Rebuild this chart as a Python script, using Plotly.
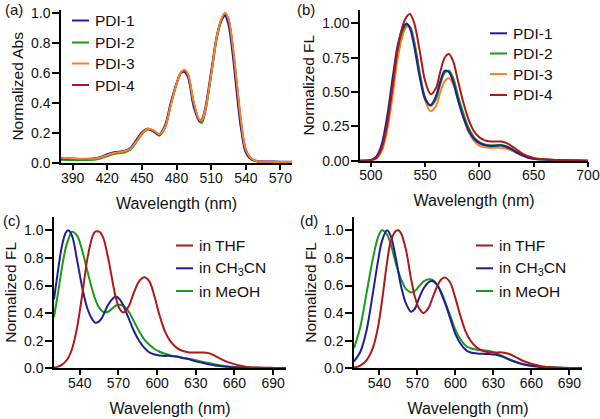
import plotly.graph_objects as go

# ---------------- data ----------------
# (a) absorption
wl_a = [380, 390, 400, 410, 415, 420, 425, 430, 435, 440, 445, 450, 455, 460, 465, 470, 475,
        480, 484, 487, 490, 495, 500, 502, 505, 510, 515, 519, 522, 525, 529, 532, 536, 540,
        545, 550, 560, 570, 580]
abs_pdi1 = [.032, .028, .027, .032, .042, .058, .070, .075, .080, .100, .150, .205, .228, .210, .190,
            .250, .400, .530, .600, .605, .570, .370, .280, .290, .370, .610, .850, .950, .980, .920,
            .700, .480, .220, .070, .022, .012, .010, .009, .008]
abs_pdi2 = [.022, .020, .020, .024, .032, .045, .058, .065, .070, .088, .135, .190, .222, .212, .182,
            .232, .385, .525, .600, .612, .585, .390, .272, .268, .345, .585, .835, .950, .985, .950,
            .740, .530, .250, .080, .025, .010, .007, .006, .005]
abs_pdi3 = [.035, .030, .028, .030, .038, .052, .065, .072, .078, .095, .140, .195, .228, .218, .192,
            .238, .385, .525, .605, .620, .590, .400, .285, .285, .355, .590, .845, .960, 1.00, .960,
            .760, .550, .270, .090, .028, .012, .008, .007, .006]
abs_pdi4 = [.033, .029, .027, .030, .039, .053, .066, .073, .079, .096, .142, .197, .228, .216, .191,
            .240, .388, .527, .604, .615, .585, .395, .282, .283, .352, .588, .842, .958, .995, .955,
            .755, .545, .265, .088, .027, .012, .008, .007, .006]

# (b) fluorescence
wl_b = [490, 500, 505, 510, 515, 520, 525, 530, 533, 536, 540, 545, 550, 555, 560, 564, 568, 572,
        576, 580, 585, 590, 595, 600, 605, 610, 615, 620, 625, 630, 635, 640, 645, 650, 660, 670,
        680, 700]
fl_pdi1 = [0, .005, .030, .120, .320, .600, .850, .975, 1.00, .965, .830, .610, .450, .405, .470,
           .580, .655, .645, .570, .450, .320, .220, .160, .128, .113, .107, .108, .110, .100, .080,
           .057, .037, .022, .014, .007, .004, .002, 0]
fl_pdi2 = [0, .004, .025, .100, .280, .550, .820, .960, .990, .975, .860, .640, .460, .400, .450,
           .560, .640, .655, .600, .480, .350, .240, .170, .135, .118, .112, .113, .115, .105, .085,
           .062, .040, .025, .015, .008, .004, .002, 0]
fl_pdi3 = [0, .002, .015, .070, .220, .470, .760, .930, .975, .975, .870, .640, .440, .360, .400,
           .500, .580, .600, .555, .450, .320, .210, .145, .110, .097, .093, .094, .095, .088, .072,
           .053, .035, .022, .014, .008, .005, .003, 0]
fl_pdi4 = [0, .003, .020, .090, .260, .540, .830, 1.00, 1.05, 1.068, 1.00, .800, .580, .485, .530,
           .650, .750, .777, .720, .590, .430, .300, .215, .170, .148, .140, .140, .140, .128, .105,
           .077, .050, .032, .020, .010, .005, .003, 0]

# (c) solvents
wl_c = [520, 523, 526, 529, 531, 534, 538, 542, 546, 550, 552, 555, 558, 562, 566, 568, 571, 574,
        578, 582, 586, 590, 594, 598, 602, 606, 610, 615, 620, 625, 630, 635, 640, 645, 650, 655,
        660, 665, 670, 680, 690, 700]
c_thf = [.005, .012, .025, .050, .075, .140, .300, .540, .800, .960, .990, .990, .950, .800, .600,
         .510, .430, .405, .450, .550, .630, .660, .630, .520, .380, .270, .200, .150, .125, .115,
         .115, .115, .110, .090, .065, .045, .030, .018, .010, .005, .003, .002]
c_ch3cn = [.500, .700, .880, .980, 1.00, .960, .780, .580, .430, .350, .330, .340, .380, .460, .510,
           .520, .500, .450, .360, .270, .200, .150, .115, .100, .093, .090, .090, .085, .075, .065,
           .050, .040, .030, .020, .015, .011, .007, .005, .004, .002, .001, .001]
c_meoh = [.370, .540, .720, .870, .930, .990, .960, .850, .700, .560, .500, .440, .410, .410, .440,
          .455, .460, .450, .410, .340, .270, .210, .170, .140, .120, .105, .095, .085, .075, .068,
          .058, .048, .038, .028, .020, .014, .010, .007, .005, .003, .002, .001]

# (d) solvents
wl_d = [520, 525, 530, 535, 539, 542, 546, 549, 553, 555, 557, 561, 565, 568, 571, 575, 579, 582,
        586, 589, 592, 596, 600, 604, 608, 612, 617, 622, 627, 632, 637, 642, 647, 652, 657, 662,
        667, 672, 680, 690, 700]
d_thf = [.005, .020, .060, .150, .300, .480, .760, .920, .995, 1.00, .980, .860, .650, .520, .440,
         .400, .440, .510, .600, .645, .657, .620, .510, .380, .270, .200, .150, .125, .115, .115,
         .115, .105, .085, .060, .042, .028, .017, .010, .006, .003, .002]
d_ch3cn = [.050, .120, .280, .550, .780, .920, 1.00, .960, .800, .700, .600, .470, .410, .430, .500,
           .580, .625, .633, .600, .540, .470, .360, .250, .180, .135, .115, .108, .105, .103, .098,
           .085, .065, .047, .032, .022, .015, .010, .007, .004, .002, .001]
d_meoh = [.145, .300, .550, .800, .950, 1.00, .970, .900, .760, .700, .650, .575, .550, .560, .590,
          .630, .645, .640, .600, .550, .480, .380, .280, .210, .165, .145, .135, .130, .125, .110,
          .090, .068, .050, .035, .024, .016, .011, .008, .004, .002, .001]

names_ab = ["PDI-1", "PDI-2", "PDI-3", "PDI-4"]
names_cd = ["in THF", "in CH<sub>3</sub>CN", "in MeOH"]

ticks_a_x = [390, 420, 450, 480, 510, 540, 570]
ticks_a_y = [0.0, 0.2, 0.4, 0.6, 0.8, 1.0]
ticks_b_x = [500, 550, 600, 650, 700]
ticks_b_y = [0.0, 0.25, 0.5, 0.75, 1.0]
ticks_cd_x = [540, 570, 600, 630, 660, 690]
ticks_cd_y = [0.0, 0.2, 0.4, 0.6, 0.8, 1.0]

# ---------------- style ----------------
W, H = 600, 419
BLUE, GREEN, ORANGE, RED = "#1e1e9c", "#1a9a1a", "#ff7f27", "#b01818"
FONT = "Arial, Liberation Sans, sans-serif"

def px(x):
    return x / W

def py(y):
    return 1 - y / H

fig = go.Figure()

def add(x, y, name, color, ax):
    fig.add_trace(go.Scatter(x=x, y=y, name=name, mode="lines", showlegend=False,
                             line=dict(color=color, width=2, shape="spline", smoothing=0.9),
                             xaxis="x" + ax, yaxis="y" + ax))

# (a)
add(wl_a, abs_pdi4, names_ab[3], RED, "")
add(wl_a, abs_pdi2, names_ab[1], GREEN, "")
add(wl_a, abs_pdi1, names_ab[0], BLUE, "")
add(wl_a, abs_pdi3, names_ab[2], ORANGE, "")
# (b)
add(wl_b, fl_pdi3, names_ab[2], ORANGE, "2")
add(wl_b, fl_pdi2, names_ab[1], GREEN, "2")
add(wl_b, fl_pdi1, names_ab[0], BLUE, "2")
add(wl_b, fl_pdi4, names_ab[3], RED, "2")
# (c)
add(wl_c, c_meoh, names_cd[2], GREEN, "3")
add(wl_c, c_ch3cn, names_cd[1], BLUE, "3")
add(wl_c, c_thf, names_cd[0], RED, "3")
# (d)
add(wl_d, d_meoh, names_cd[2], GREEN, "4")
add(wl_d, d_ch3cn, names_cd[1], BLUE, "4")
add(wl_d, d_thf, names_cd[0], RED, "4")

axcommon = dict(showline=True, linecolor="black", linewidth=1.5, ticks="outside",
                tickwidth=1.5, tickcolor="black", showgrid=False, zeroline=False,
                automargin=False, tickfont=dict(family=FONT, size=14, color="#111"), mirror=False)

def xax(domain, rng, tv, anchor):
    return dict(axcommon, domain=[px(domain[0]), px(domain[1])], range=rng, tickvals=tv,
                anchor=anchor, ticklen=5, ticklabelstandoff=-4,
                title=dict(text="Wavelength (nm)", standoff=13,
                           font=dict(family=FONT, size=16, color="#111")))

def yax(domain, rng, tv, fmt, title, anchor):
    return dict(axcommon, domain=[py(domain[1]), py(domain[0])], range=rng, tickvals=tv,
                tickformat=fmt, anchor=anchor, ticklen=7, ticklabelstandoff=-1,
                title=dict(text=title, standoff=4,
                           font=dict(family=FONT, size=15.5, color="#111")))

fig.update_layout(
    width=W, height=H, margin=dict(l=0, r=0, t=0, b=0, pad=0, autoexpand=False),
    paper_bgcolor="white", plot_bgcolor="white", showlegend=False,
    xaxis=xax([61, 292], [380, 580], ticks_a_x, "y"),
    yaxis=yax([9.7, 163], [0, 1.02], ticks_a_y, ".1f", "Normalized Abs", "x"),
    xaxis2=xax([360, 588], [490, 700], ticks_b_x, "y2"),
    yaxis2=yax([9.7, 160.7], [0, 1.1], ticks_b_y, ".2f", "Normalized FL", "x2"),
    xaxis3=xax([54, 286], [520, 700], ticks_cd_x, "y3"),
    yaxis3=yax([216.5, 368.3], [0, 1.1], ticks_cd_y, ".1f", "Normalized FL", "x3"),
    xaxis4=xax([354, 582], [520, 700], ticks_cd_x, "y4"),
    yaxis4=yax([216.5, 368.3], [0, 1.1], ticks_cd_y, ".1f", "Normalized FL", "x4"),
)

# legends (line sample + label)
def legend(items, x0, x1, xt, rows):
    for (name, color), yy in zip(items, rows):
        fig.add_shape(type="line", xref="paper", yref="paper", x0=px(x0), x1=px(x1),
                      y0=py(yy), y1=py(yy), line=dict(color=color, width=2))
        fig.add_annotation(text=name, xref="paper", yref="paper", x=px(xt), y=py(yy),
                           xanchor="left", yanchor="middle", showarrow=False, borderpad=0,
                           font=dict(family=FONT, size=15.5, color="#111"))

legend(list(zip(names_ab, [BLUE, GREEN, ORANGE, RED])), 72, 89, 94, [20.5, 42.5, 63.5, 85])
legend(list(zip(names_ab, [BLUE, GREEN, ORANGE, RED])), 490, 507, 512, [33.3, 53.5, 74, 95])
legend(list(zip(names_cd, [RED, BLUE, GREEN])), 176, 193, 198, [245.5, 268.3, 291])
legend(list(zip(names_cd, [RED, BLUE, GREEN])), 476, 493, 498, [245.5, 268.3, 291])

# panel labels
for lab, x, y in [("(a)", 4, 9), ("(b)", 296, 9), ("(c)", 2, 221), ("(d)", 299, 221)]:
    fig.add_annotation(text=lab, xref="paper", yref="paper", x=px(x), y=py(y), xanchor="left",
                       yanchor="middle", showarrow=False, borderpad=0,
                       font=dict(family=FONT, size=15, color="#111"))

fig.write_html("out.html", config={"displayModeBar": False},
               post_script="document.body.style.margin='0';document.body.style.padding='0';")
